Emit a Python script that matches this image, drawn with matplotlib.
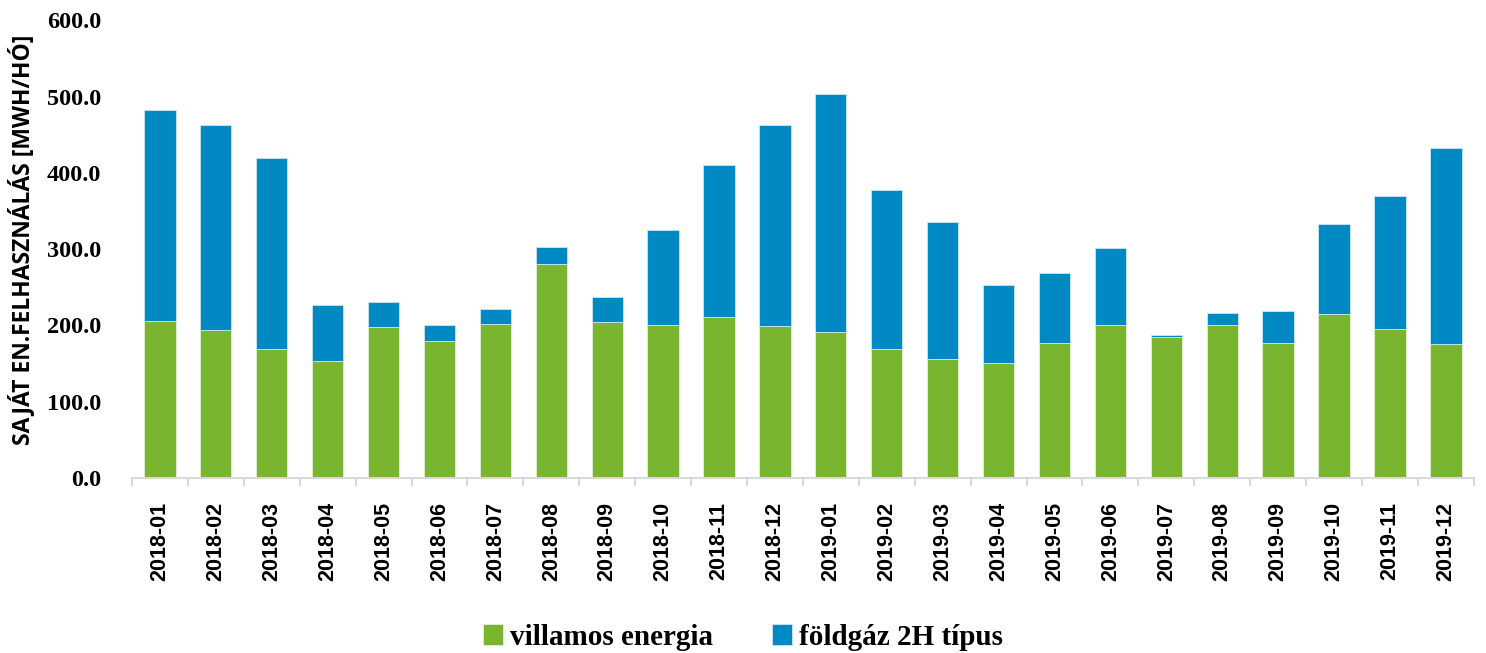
import matplotlib.pyplot as plt
import numpy as np

months = [
    "2018-01", "2018-02", "2018-03", "2018-04", "2018-05", "2018-06",
    "2018-07", "2018-08", "2018-09", "2018-10", "2018-11", "2018-12",
    "2019-01", "2019-02", "2019-03", "2019-04", "2019-05", "2019-06",
    "2019-07", "2019-08", "2019-09", "2019-10", "2019-11", "2019-12",
]

villamos = [
    205.4, 193.6, 168.7, 153.8, 197.5, 179.6, 201.4, 280.5, 204.1, 201.0, 210.6, 199.2,
    191.0, 169.6, 156.0, 150.3, 176.5, 201.0, 184.8, 200.1, 177.5, 215.4, 194.9, 175.2,
]
foldgaz = [
    277.4, 268.7, 251.2, 72.5, 32.8, 21.4, 20.6, 21.9, 32.7, 124.5, 199.2, 264.0,
    312.8, 207.4, 180.0, 102.3, 91.8, 101.0, 2.6, 16.7, 41.9, 118.0, 175.2, 257.8,
]

green = "#7AB530"
blue = "#0089C2"

fig = plt.figure(figsize=(14.86, 6.53), dpi=100)
ax = fig.add_axes([0.0888, 0.268, 0.903, 0.701])

x = np.arange(len(months))
ax.bar(x, villamos, width=0.56, color=green, edgecolor="#e8f0dc", linewidth=0.6,
       label="villamos energia")
ax.bar(x, foldgaz, width=0.56, bottom=villamos, color=blue, edgecolor="#cfe6f3",
       linewidth=0.6, label="földgáz 2H típus")

ax.set_xlim(-0.5, len(months) - 0.5)
ax.set_ylim(0, 600)
ax.set_yticks(np.arange(0, 601, 100))
ax.set_yticklabels([f"{v:.1f}" for v in np.arange(0, 601, 100)],
                   fontfamily="Liberation Serif", fontweight="bold", fontsize=17.5)
ax.tick_params(axis="y", length=0, pad=22)

ax.set_xticks(x)
ax.set_xticklabels(months, rotation=90, fontfamily="Liberation Sans",
                   fontweight="bold", fontsize=15.5)
ax.tick_params(axis="x", which="major", length=0, pad=17)
ax.set_xticks(np.arange(-0.5, len(months), 1), minor=True)
ax.tick_params(axis="x", which="minor", length=6, width=1.5, color="#d9d9d9")

for side in ["top", "right", "left"]:
    ax.spines[side].set_visible(False)
ax.spines["bottom"].set_color("#d9d9d9")
ax.spines["bottom"].set_linewidth(1.5)

# y label placed by hand so the accents are not cut at the left edge
fig.text(22 / 1486, 0.632, "SAJÁT EN.FELHASZNÁLÁS [MWH/HÓ]", rotation=90,
         ha="center", va="center", fontfamily="Open Sans", fontweight="bold",
         fontsize=16.5)

fig.legend(loc="center", bbox_to_anchor=(0.5, 0.024), ncol=2, frameon=False,
           prop={"family": "Liberation Serif", "weight": "bold", "size": 21},
           handlelength=0.7, handleheight=0.7, handletextpad=0.25, columnspacing=2.0)

plt.savefig("out.png", dpi=100)
plt.close()
